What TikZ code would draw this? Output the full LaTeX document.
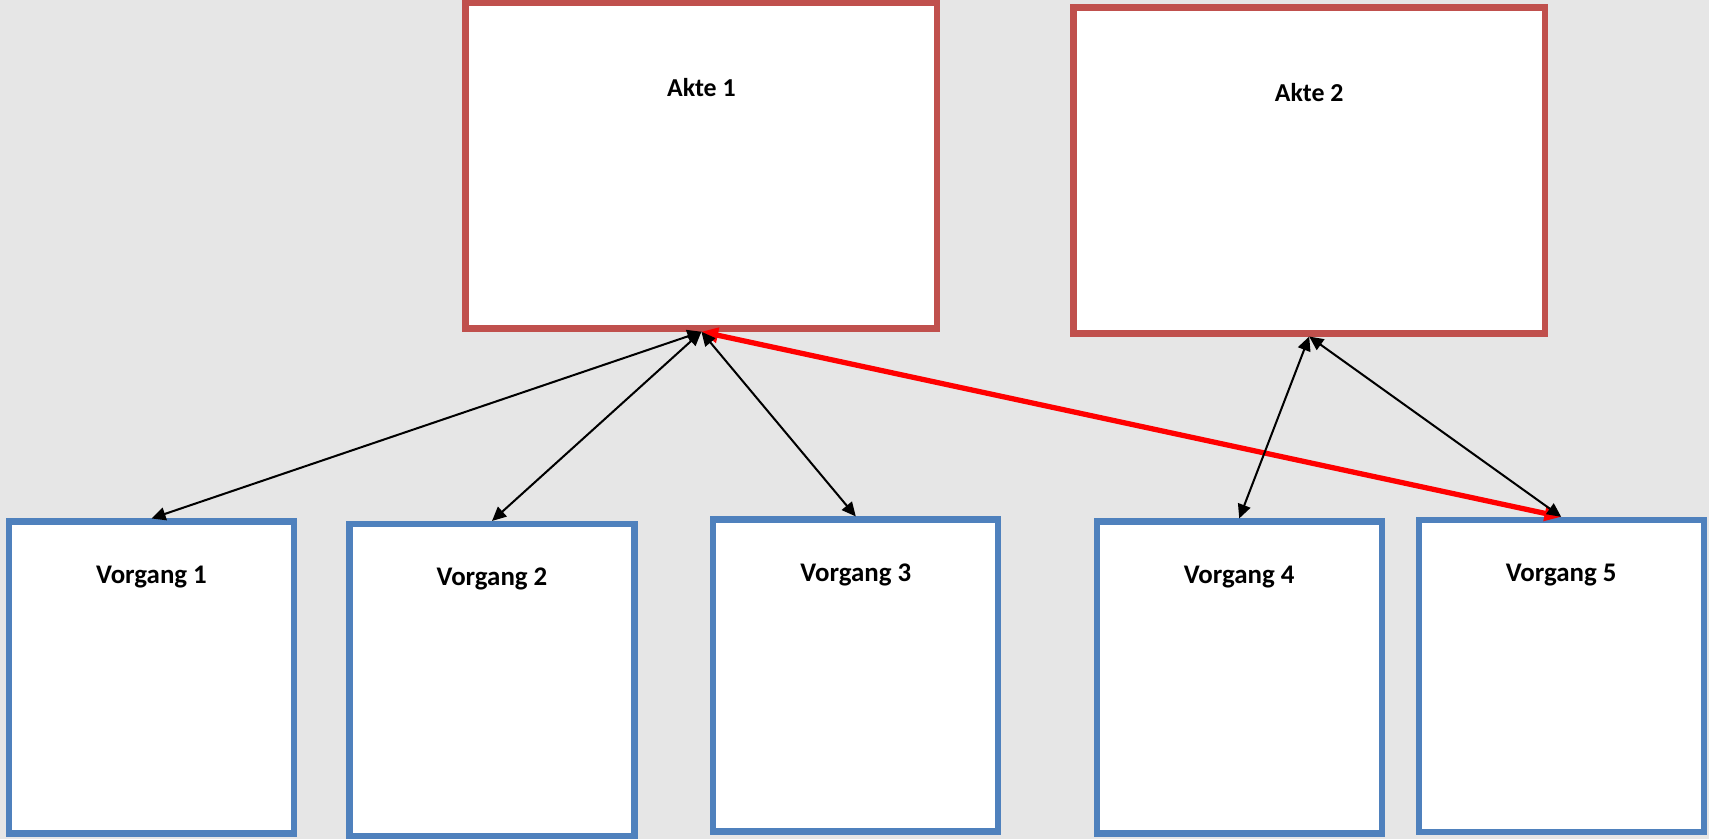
\documentclass[tikz,border=0pt]{standalone}
\usepackage{fontspec}
\setmainfont{Carlito}
\usetikzlibrary{arrows.meta}
\definecolor{aktered}{RGB}{192,80,77}
\definecolor{vorgangblue}{RGB}{79,129,189}
\definecolor{bggray}{RGB}{230,230,230}

\begin{document}
\begin{tikzpicture}[x=0.02cm,y=-0.02cm,font=\fontsize{14.7}{17}\selectfont\bfseries]

      \fill[bggray] (0,0) rectangle (1709,839);
      \useasboundingbox (0,0) rectangle (1709,839);

      \begin{scope}[every node/.style={rectangle,draw=aktered,fill=white,line width=3.7pt,minimum width=9.43cm,minimum height=6.52cm}]
        \node (a1) at (701.4,165.5) {};
        \node (a2) at (1309.2,170.3) {};
      \end{scope}

      \begin{scope}[every node/.style={rectangle,draw=vorgangblue,fill=white,line width=3.5pt,minimum width=5.7cm,minimum height=6.24cm}]
        \node (v1) at (151.5,677.5) {};
        \node (v2) at (492,680) {};
        \node (v3) at (855.8,675.5) {};
        \node (v4) at (1239.2,677.5) {};
        \node (v5) at (1561.2,675.9) {};
      \end{scope}

      \begin{scope}[every node/.style={anchor=base,inner sep=0pt}]
        \node (ta1) at ([yshift=-1.94cm]a1.north) {Akte 1};
        \node (ta2) at ([yshift=-1.94cm]a2.north) {Akte 2};
      \end{scope}

      \begin{scope}[every node/.style={anchor=base,inner sep=0pt,font=\fontsize{15.3}{18}\selectfont\bfseries}]
        \node (tv1) at ([yshift=-1.30cm]v1.north) {Vorgang 1};
        \node (tv2) at ([yshift=-1.30cm]v2.north) {Vorgang 2};
        \node (tv3) at ([yshift=-1.30cm]v3.north) {Vorgang 3};
        \node (tv4) at ([yshift=-1.30cm]v4.north) {Vorgang 4};
        \node (tv5) at ([yshift=-1.30cm]v5.north) {Vorgang 5};
      \end{scope}

      \begin{scope}[every edge/.style={draw,red,line width=3pt,<->,>={Triangle[length=9.5pt,width=8.5pt]}}]
        \path (a1.south) edge (v5.north);
      \end{scope}

      \begin{scope}[every edge/.style={draw,black,line width=1.15pt,<->,>={Triangle[length=8pt,width=7.4pt]}}]
        \path (a1.south) edge (v1.north);
        \path (a1.south) edge (v2.north);
        \path (a1.south) edge (v3.north);
        \path (a2.south) edge (v4.north);
        \path (a2.south) edge (v5.north);
      \end{scope}

    \end{tikzpicture}
\end{document}
